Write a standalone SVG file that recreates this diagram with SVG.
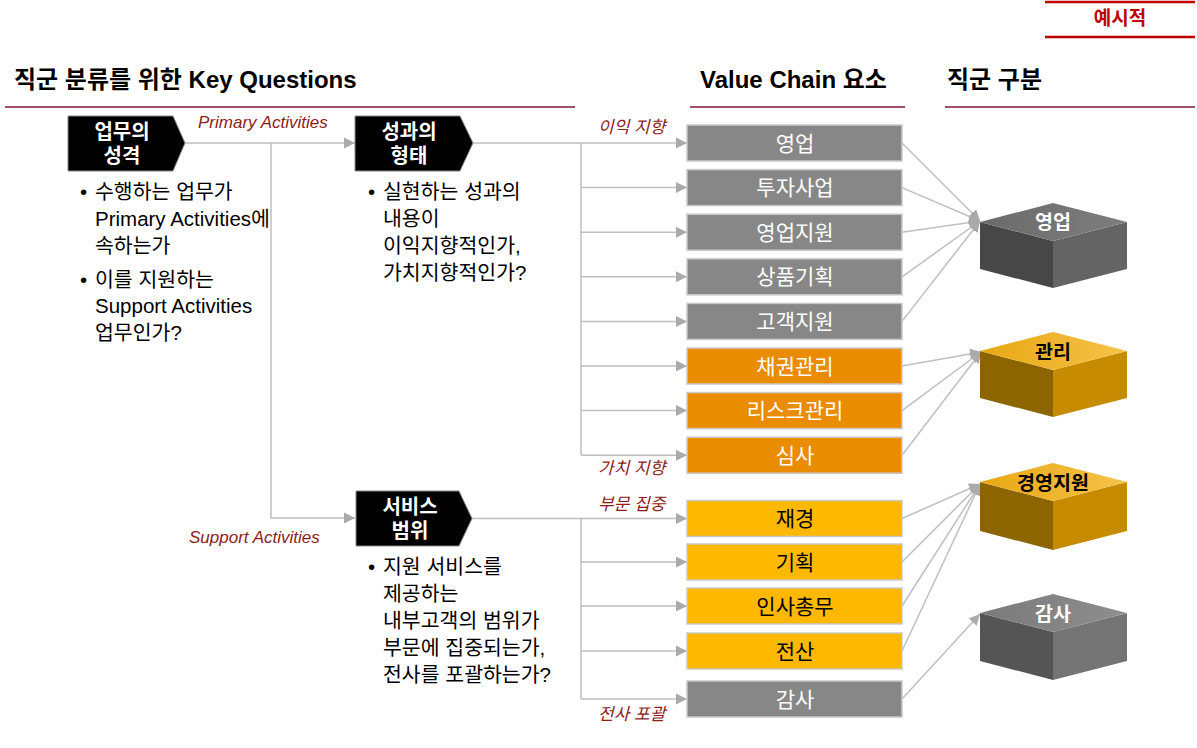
<svg xmlns="http://www.w3.org/2000/svg" width="1197" height="748" viewBox="0 0 1197 748">
<style>
text{font-family:"Liberation Sans","Noto Sans CJK KR",sans-serif;}
.title{font-size:24px;font-weight:bold;fill:#000;}
.hline{stroke:#a0506a;stroke-width:2;fill:none;}
.red{stroke:#c00000;stroke-width:2.5;fill:none;}
.lbl{font-size:17px;font-style:italic;fill:#8c1d18;}
.body{font-size:20.5px;fill:#000;}
.node{fill:#000;stroke:#8a8a8a;stroke-width:1;}
.nodet{font-size:20px;font-weight:bold;fill:#fff;text-anchor:middle;}
.con{stroke:#bfbfbf;stroke-width:1.5;fill:none;}
.arr{marker-end:url(#ah);}
.vc{stroke:#c9c9c9;stroke-width:1.5;}
.g{fill:#878787;}
.o{fill:#e98c00;}
.y{fill:#ffb800;}
.vt{font-size:21px;text-anchor:middle;fill:#fff;}
.vtb{font-size:21px;text-anchor:middle;fill:#000;}
.bt{font-size:19.5px;font-weight:bold;text-anchor:middle;}
</style>
<defs>
<marker id="ah" markerUnits="userSpaceOnUse" markerWidth="12" markerHeight="12" refX="11" refY="5.5" orient="auto" viewBox="0 0 12 11">
<path d="M0,0 L11,5.5 L0,11 z" fill="#aaaaaa"/>
</marker>
<linearGradient id="gTop" x1="0" y1="0" x2="1" y2="0"><stop offset="0" stop-color="#6a6a6a"/><stop offset="1" stop-color="#7e7e7e"/></linearGradient>
<linearGradient id="yTop" x1="0" y1="0" x2="1" y2="0"><stop offset="0" stop-color="#e8a812"/><stop offset="1" stop-color="#f7c24a"/></linearGradient>
<linearGradient id="aTop" x1="0" y1="0" x2="1" y2="0"><stop offset="0" stop-color="#7a7a7a"/><stop offset="1" stop-color="#8e8e8e"/></linearGradient>
</defs>

<!-- headers -->
<g id="headers">
<text class="title" x="14" y="88">직군 분류를 위한 Key Questions</text>
<text class="title" x="700" y="88">Value Chain 요소</text>
<text class="title" x="947" y="88">직군 구분</text>
<line class="hline" x1="5" y1="107" x2="575" y2="107"/>
<line class="hline" x1="690" y1="107" x2="905" y2="107"/>
<line class="hline" x1="945" y1="107" x2="1195" y2="107"/>
</g>
<g id="badge">
<line class="red" x1="1045" y1="2" x2="1195" y2="2"/>
<line class="red" x1="1045" y1="37" x2="1195" y2="37"/>
<text x="1120" y="25" font-size="19" font-weight="bold" fill="#c00000" text-anchor="middle">예시적</text>
</g>

<!-- connectors -->
<g id="connectors">
<path class="con arr" d="M185,143 H355"/>
<path class="con arr" d="M271,143 V518 H355"/>
<path class="con arr" d="M473,143 H687"/>
<path class="con" d="M581,143 V455"/>
<path class="con arr" d="M581,187.6 H687"/>
<path class="con arr" d="M581,232.2 H687"/>
<path class="con arr" d="M581,276.8 H687"/>
<path class="con arr" d="M581,321.4 H687"/>
<path class="con arr" d="M581,366 H687"/>
<path class="con arr" d="M581,410.6 H687"/>
<path class="con arr" d="M581,455.2 H687"/>
<path class="con arr" d="M472,518.5 H687"/>
<path class="con" d="M581,518.5 V699"/>
<path class="con arr" d="M581,562 H687"/>
<path class="con arr" d="M581,606 H687"/>
<path class="con arr" d="M581,651 H687"/>
<path class="con arr" d="M581,699 H687"/>
<path class="con arr" d="M902,143 L980,221"/>
<path class="con arr" d="M902,187.6 L980,221"/>
<path class="con arr" d="M902,232.2 L980,221"/>
<path class="con arr" d="M902,276.8 L980,221"/>
<path class="con arr" d="M902,321.4 L980,221"/>
<path class="con arr" d="M902,366 L981,352"/>
<path class="con arr" d="M902,410.6 L981,352"/>
<path class="con arr" d="M902,455.2 L981,352"/>
<path class="con arr" d="M902,518.5 L980,484"/>
<path class="con arr" d="M902,562 L980,484"/>
<path class="con arr" d="M902,606 L980,484"/>
<path class="con arr" d="M902,651 L980,484"/>
<path class="con arr" d="M902,699 L980,614"/>
<text class="lbl" x="198" y="128">Primary Activities</text>
<text class="lbl" x="189" y="543">Support Activities</text>
<text class="lbl" x="598" y="133">이익 지향</text>
<text class="lbl" x="598" y="474">가치 지향</text>
<text class="lbl" x="598" y="510">부문 집중</text>
<text class="lbl" x="598" y="720">전사 포괄</text>
</g>

<!-- key question nodes -->
<g id="q1">
<polygon class="node" points="68,116 173,116 185,143 173,171 68,171"/>
<text class="nodet" x="122" y="139">업무의</text>
<text class="nodet" x="122" y="163">성격</text>
<text class="body" x="80" y="199">•</text>
<text class="body" x="95" y="199">수행하는 업무가</text>
<text class="body" x="95" y="226">Primary Activities에</text>
<text class="body" x="95" y="253">속하는가</text>
<text class="body" x="80" y="287">•</text>
<text class="body" x="95" y="287">이를 지원하는</text>
<text class="body" x="95" y="313">Support Activities</text>
<text class="body" x="95" y="340">업무인가?</text>
</g>
<g id="q2">
<polygon class="node" points="355,116 460,116 473,143 460,171 355,171"/>
<text class="nodet" x="409" y="139">성과의</text>
<text class="nodet" x="409" y="163">형태</text>
<text class="body" x="368" y="199">•</text>
<text class="body" x="383" y="199">실현하는 성과의</text>
<text class="body" x="383" y="226">내용이</text>
<text class="body" x="383" y="253">이익지향적인가,</text>
<text class="body" x="383" y="280">가치지향적인가?</text>
</g>
<g id="q3">
<polygon class="node" points="356,491 459,491 472,518.5 459,546 356,546"/>
<text class="nodet" x="410" y="514">서비스</text>
<text class="nodet" x="410" y="538">범위</text>
<text class="body" x="368" y="574">•</text>
<text class="body" x="383" y="574">지원 서비스를</text>
<text class="body" x="383" y="601">제공하는</text>
<text class="body" x="383" y="628">내부고객의 범위가</text>
<text class="body" x="383" y="655">부문에 집중되는가,</text>
<text class="body" x="383" y="682">전사를 포괄하는가?</text>
</g>

<!-- value chain boxes -->
<g id="vc1"><rect class="vc g" x="687" y="125" width="215" height="36"/><text class="vt" x="795" y="150.5">영업</text></g>
<g id="vc2"><rect class="vc g" x="687" y="169.6" width="215" height="36"/><text class="vt" x="795" y="195.1">투자사업</text></g>
<g id="vc3"><rect class="vc g" x="687" y="214.2" width="215" height="36"/><text class="vt" x="795" y="239.7">영업지원</text></g>
<g id="vc4"><rect class="vc g" x="687" y="258.8" width="215" height="36"/><text class="vt" x="795" y="284.3">상품기획</text></g>
<g id="vc5"><rect class="vc g" x="687" y="303.4" width="215" height="36"/><text class="vt" x="795" y="328.9">고객지원</text></g>
<g id="vc6"><rect class="vc o" x="687" y="348" width="215" height="36"/><text class="vt" x="795" y="373.5">채권관리</text></g>
<g id="vc7"><rect class="vc o" x="687" y="392.6" width="215" height="36"/><text class="vt" x="795" y="418.1">리스크관리</text></g>
<g id="vc8"><rect class="vc o" x="687" y="437.2" width="215" height="36"/><text class="vt" x="795" y="462.7">심사</text></g>
<g id="vc9"><rect class="vc y" x="687" y="500.5" width="215" height="36"/><text class="vtb" x="795" y="526">재경</text></g>
<g id="vc10"><rect class="vc y" x="687" y="544" width="215" height="36"/><text class="vtb" x="795" y="569.5">기획</text></g>
<g id="vc11"><rect class="vc y" x="687" y="588" width="215" height="36"/><text class="vtb" x="795" y="613.5">인사총무</text></g>
<g id="vc12"><rect class="vc y" x="687" y="633" width="215" height="36"/><text class="vtb" x="795" y="658.5">전산</text></g>
<g id="vc13"><rect class="vc g" x="687" y="681" width="215" height="36"/><text class="vt" x="795" y="706.5">감사</text></g>

<!-- job family cubes -->
<g id="job1" transform="translate(980,203)">
<polygon points="0,19 73,38 73,85 0,66" fill="#474747"/>
<polygon points="73,38 147,19 147,66 73,85" fill="#646464"/>
<polygon points="73,0 147,19 73,38 0,19" fill="url(#gTop)"/>
<text class="bt" x="73" y="26" fill="#fff">영업</text>
</g>
<g id="job2" transform="translate(980,332)">
<polygon points="0,19 73,38 73,85 0,66" fill="#8c6400"/>
<polygon points="73,38 147,19 147,66 73,85" fill="#c68b00"/>
<polygon points="73,0 147,19 73,38 0,19" fill="url(#yTop)"/>
<text class="bt" x="73" y="27" fill="#000">관리</text>
</g>
<g id="job3" transform="translate(980,463)">
<polygon points="0,19 73,38 73,87 0,68" fill="#8c6400"/>
<polygon points="73,38 147,19 147,68 73,87" fill="#c68b00"/>
<polygon points="73,0 147,19 73,38 0,19" fill="url(#yTop)"/>
<text class="bt" x="73" y="27" fill="#000">경영지원</text>
</g>
<g id="job4" transform="translate(980,594)">
<polygon points="0,19 73,38 73,86 0,67" fill="#555555"/>
<polygon points="73,38 147,19 147,67 73,86" fill="#747474"/>
<polygon points="73,0 147,19 73,38 0,19" fill="url(#aTop)"/>
<text class="bt" x="73" y="27" fill="#fff">감사</text>
</g>
</svg>
